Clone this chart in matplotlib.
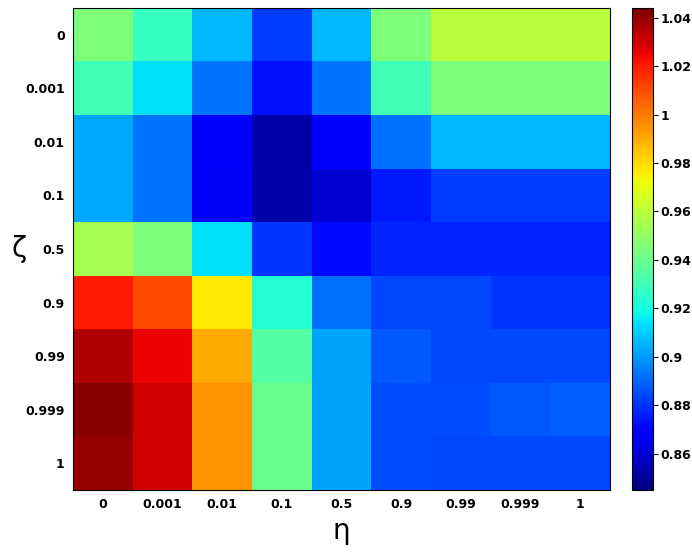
import numpy as np
import matplotlib.pyplot as plt

eta_labels = ["0", "0.001", "0.01", "0.1", "0.5", "0.9", "0.99", "0.999", "1"]
zeta_labels = ["0", "0.001", "0.01", "0.1", "0.5", "0.9", "0.99", "0.999", "1"]

row_0 = [0.945, 0.928, 0.906, 0.882, 0.906, 0.945, 0.960, 0.960, 0.960]
row_0001 = [0.930, 0.914, 0.893, 0.873, 0.893, 0.930, 0.945, 0.945, 0.945]
row_001 = [0.903, 0.893, 0.868, 0.852, 0.868, 0.892, 0.906, 0.906, 0.906]
row_01 = [0.903, 0.893, 0.866, 0.853, 0.860, 0.875, 0.882, 0.882, 0.882]
row_05 = [0.955, 0.945, 0.914, 0.880, 0.872, 0.877, 0.877, 0.877, 0.877]
row_09 = [1.020, 1.010, 0.977, 0.923, 0.892, 0.884, 0.884, 0.880, 0.880]
row_099 = [1.035, 1.025, 0.990, 0.935, 0.902, 0.887, 0.884, 0.884, 0.884]
row_0999 = [1.042, 1.030, 0.995, 0.940, 0.902, 0.885, 0.885, 0.887, 0.889]
row_1 = [1.040, 1.030, 0.995, 0.940, 0.902, 0.885, 0.884, 0.884, 0.884]

data = np.array([row_0, row_0001, row_001, row_01, row_05,
                 row_09, row_099, row_0999, row_1])

fig = plt.figure(figsize=(6.92, 5.55), dpi=100)
ax = fig.add_axes([73 / 692, 1 - 490 / 555, 537 / 692, 482 / 555])
cax = fig.add_axes([632 / 692, 1 - 490 / 555, 21 / 692, 482 / 555])

im = ax.imshow(data, cmap="jet", vmin=0.845, vmax=1.044, aspect="auto",
               interpolation="nearest")
ax.set_xticks(range(9))
ax.set_xticklabels(eta_labels, fontweight="bold")
ax.set_yticks(range(9))
ax.set_yticklabels(zeta_labels, fontweight="bold")
ax.tick_params(labelsize=9, length=0, pad=6)
ax.set_xlabel("η", fontsize=20)
ax.set_ylabel("ζ", fontsize=20, rotation=0, va="center")
ax.yaxis.set_label_coords(-0.1, 0.5)

cb = fig.colorbar(im, cax=cax)
cb.set_ticks([0.86, 0.88, 0.9, 0.92, 0.94, 0.96, 0.98, 1.0, 1.02, 1.04])
cb.set_ticklabels(["0.86", "0.88", "0.9", "0.92", "0.94", "0.96", "0.98", "1", "1.02", "1.04"])
cb.ax.tick_params(labelsize=9, pad=2)
for t in cb.ax.get_yticklabels():
    t.set_fontweight("bold")

fig.savefig("out.png", dpi=100)
